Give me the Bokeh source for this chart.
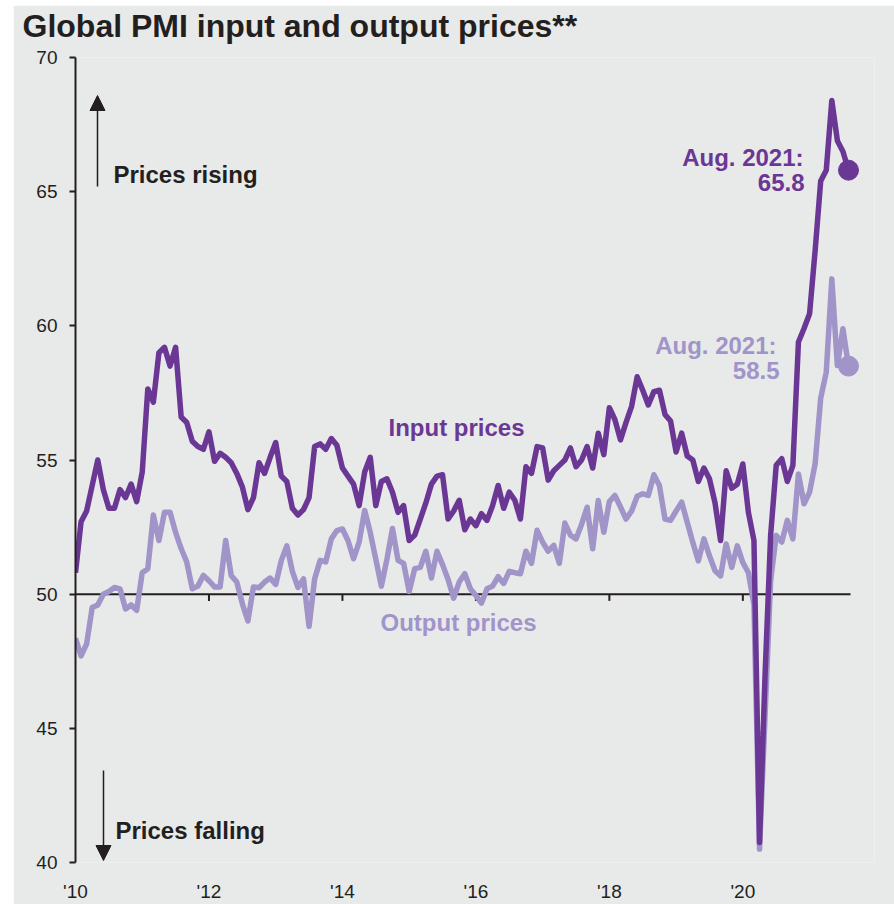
import numpy as np
from bokeh.plotting import figure
from bokeh.models import Range1d, FixedTicker, Label, Arrow, NormalHead, Title
from bokeh.embed import file_html
from bokeh.resources import INLINE

# Monthly Global PMI price indices, Jan 2010 - Aug 2021
input_prices = [
    50.8, 52.7, 53.1, 54.05, 55.0, 53.9, 53.2, 53.2, 53.9, 53.6, 54.1, 53.45,
    54.55, 57.65, 57.15, 59.0, 59.2, 58.5, 59.2, 56.6, 56.4, 55.7, 55.5, 55.4,
    56.05, 54.95, 55.25, 55.1, 54.9, 54.5, 54.0, 53.15, 53.6, 54.9, 54.5, 55.1,
    55.65, 54.4, 54.2, 53.2, 52.95, 53.15, 53.6, 55.5, 55.6, 55.4, 55.8, 55.55,
    54.7, 54.4, 54.1, 53.3, 54.55, 55.1, 53.3, 54.2, 54.3, 53.8, 53.05, 53.3,
    52.0, 52.2, 52.8, 53.4, 54.1, 54.4, 54.45, 52.8, 53.1, 53.5, 52.4, 52.8,
    52.55, 53.0, 52.75, 53.3, 54.05, 53.2, 53.8, 53.5, 52.8, 54.75, 54.5, 55.5,
    55.45, 54.25, 54.6, 54.8, 55.0, 55.45, 54.75, 55.0, 55.5, 54.7, 56.0, 55.2,
    56.95, 56.5, 55.75, 56.4, 57.0, 58.1, 57.6, 57.05, 57.55, 57.6, 56.7, 56.45,
    55.3, 56.0, 55.15, 55.0, 54.2, 54.7, 54.3, 53.4, 52.0, 54.6, 53.95, 54.1,
    54.85, 53.05, 52.0, 40.75, 47.0, 52.2, 54.8, 55.05, 54.2, 54.8, 59.4, 59.9,
    60.45, 62.8, 65.4, 65.8, 68.4, 66.9, 66.5, 65.8,
]
output_prices = [
    48.35, 47.7, 48.15, 49.5, 49.6, 50.0, 50.1, 50.25, 50.2, 49.45, 49.6, 49.4,
    50.8, 50.95, 52.95, 52.0, 53.05, 53.05, 52.3, 51.7, 51.2, 50.2, 50.3, 50.7,
    50.5, 50.27, 50.27, 52.0, 50.7, 50.45, 49.65, 49.0, 50.27, 50.24, 50.45, 50.6,
    50.36, 51.25, 51.8, 50.85, 50.25, 50.57, 48.8, 50.57, 51.26, 51.2, 52.06, 52.37,
    52.43, 52.0, 51.32, 51.94, 53.12, 52.3, 51.3, 50.3, 51.3, 52.45, 51.26, 51.15,
    50.1, 50.95, 51.0, 51.6, 50.6, 51.6, 51.1, 50.55, 49.85, 50.45, 50.76, 50.2,
    49.95, 49.67, 50.2, 50.3, 50.65, 50.4, 50.85, 50.8, 50.76, 51.6, 51.15, 52.38,
    51.94, 51.6, 51.82, 51.15, 52.65, 52.2, 52.06, 52.6, 53.24, 51.69, 53.49, 52.31,
    53.45, 53.68, 53.25, 52.8, 53.1, 53.65, 53.74, 53.68, 54.45, 54.05, 52.8, 52.75,
    53.1, 53.43, 52.68, 51.93, 51.24, 52.06, 51.43, 50.87, 50.68, 51.87, 51.0, 51.8,
    51.18, 50.8, 49.6, 40.5, 45.5, 50.5, 52.19, 51.94, 52.75, 52.06, 54.48, 53.37,
    53.8, 54.86, 57.3, 58.27, 61.75, 58.52, 59.89, 58.5,
]
year_ticks = [2010, 2012, 2014, 2016, 2018, 2020]
year_labels = ["'10", "'12", "'14", "'16", "'18", "'20"]
y_ticks = [40, 45, 50, 55, 60, 65, 70]
last_label = "Aug. 2021:"

months = 2010 + np.arange(len(input_prices)) / 12.0

BG = "#e8e9e9"
INK = "#231f20"
DARK = "#6b3795"
LIGHT = "#a094c9"
FONT = "Liberation Sans"

p = figure(
    width=881, height=899, margin=(5, 0, 0, 13),
    x_range=Range1d(2010, 2021.973), y_range=Range1d(40, 70),
    output_backend="svg", toolbar_location=None,
    min_border_left=62, min_border_top=52, min_border_bottom=42, min_border_right=20,
    background_fill_color=BG, border_fill_color=BG, outline_line_color=None,
)
p.grid.visible = False

# title panel: a thin spacer next to the frame, then the heading above it
p.add_layout(Title(text=" ", text_font_size="1px", standoff=11), "above")
p.add_layout(Title(text="Global PMI input and output prices**", align="left", offset=-53,
                   standoff=0, text_font=FONT, text_font_size="32px",
                   text_font_style="bold", text_color=INK), "above")

# left value axis
p.yaxis.ticker = FixedTicker(ticks=y_ticks)
p.yaxis.axis_line_width = 2
p.yaxis.axis_line_color = INK
p.yaxis.major_tick_line_color = INK
p.yaxis.major_tick_line_width = 2
p.yaxis.major_tick_out = 6
p.yaxis.major_tick_in = 0
p.yaxis.minor_tick_line_color = None
p.yaxis.major_label_standoff = 12
p.yaxis.major_label_text_font = FONT
p.yaxis.major_label_text_font_size = "19px"
p.yaxis.major_label_text_color = INK

# year labels along the bottom
p.xaxis.ticker = FixedTicker(ticks=year_ticks)
p.xaxis.major_label_overrides = {t: s for t, s in zip(year_ticks, year_labels)}
p.xaxis.axis_line_color = None
p.xaxis.major_tick_line_color = None
p.xaxis.minor_tick_line_color = None
p.xaxis.major_label_standoff = 12
p.xaxis.major_label_text_font = FONT
p.xaxis.major_label_text_font_size = "19px"
p.xaxis.major_label_text_color = INK

# the 50 line (expansion / contraction) with year ticks hanging from it
p.segment(x0=[2010], y0=[50], x1=[months[-1] + 0.03], y1=[50], line_color=INK, line_width=2)
p.segment(x0=year_ticks[1:], y0=[50] * 5, x1=year_ticks[1:], y1=[49.75] * 5,
          line_color=INK, line_width=2)

# series
p.line(months, output_prices, line_color=LIGHT, line_width=5.5, line_join="round")
p.line(months, input_prices, line_color=DARK, line_width=5.5, line_join="round")
p.scatter([months[-1]], [output_prices[-1]], size=20, fill_color=LIGHT, line_color=LIGHT)
p.scatter([months[-1]], [input_prices[-1]], size=20, fill_color=DARK, line_color=DARK)


def px_x(px):
    return 2010 + (px - 75) / 66.73


def px_y(py):
    # text baselines sit a little below the anchor, so lift them
    return 40 + (862 - (py - 8)) / 26.833


def label(text, x, y, color, size="24px", align="left"):
    p.add_layout(Label(x=x, y=y, text=text, text_color=color, text_font=FONT,
                       text_font_size=size, text_font_style="bold",
                       text_align=align, text_baseline="alphabetic"))


label("Prices rising", px_x(113), px_y(182), INK)
label("Prices falling", px_x(115), px_y(838), INK)
label("Input prices", px_x(456), px_y(435), DARK, align="center")
label("Output prices", px_x(458), px_y(630), LIGHT, align="center")
label(last_label, px_x(803), px_y(165), DARK, align="right")
label(f"{input_prices[-1]:.1f}", px_x(804), px_y(190), DARK, align="right")
label(last_label, px_x(776), px_y(353), LIGHT, align="right")
label(f"{output_prices[-1]:.1f}", px_x(779), px_y(378), LIGHT, align="right")


def arrow_y(py):
    return 40 + (862 - py) / 26.833


# direction arrows
p.add_layout(Arrow(x_start=px_x(97), y_start=arrow_y(186), x_end=px_x(97), y_end=arrow_y(95),
                   line_color=INK, line_width=1.5,
                   end=NormalHead(size=15, fill_color=INK, line_color=INK)))
p.add_layout(Arrow(x_start=px_x(103), y_start=arrow_y(770), x_end=px_x(103), y_end=arrow_y(860),
                   line_color=INK, line_width=1.5,
                   end=NormalHead(size=15, fill_color=INK, line_color=INK)))

open("out.html", "w").write(file_html(p, INLINE))
